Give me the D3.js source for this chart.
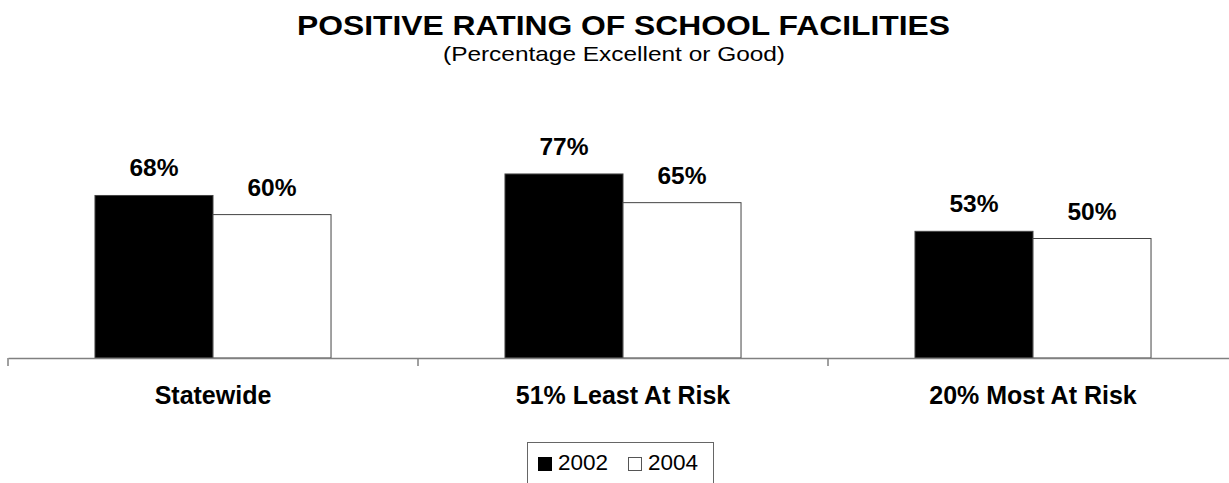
<!DOCTYPE html>
<html>
<head>
<meta charset="utf-8">
<script src="https://cdn.jsdelivr.net/npm/d3@7"></script>
<style>
  html, body { margin: 0; padding: 0; background: #fff; }
  svg { display: block; font-family: "Liberation Sans", Arial, sans-serif; }
</style>
</head>
<body>
<svg id="chart" width="1229" height="483"></svg>
<script>
const categories = ["Statewide", "51% Least At Risk", "20% Most At Risk"];
const seriesNames = ["2002", "2004"];
const values2002 = [68, 77, 53];
const values2004 = [60, 65, 50];
const title = "POSITIVE RATING OF SCHOOL FACILITIES";
const subtitle = "(Percentage Excellent or Good)";

const svg = d3.select("#chart");
const data = categories.map((c, i) => ({cat: c, vals: [
  {s: seriesNames[0], v: values2002[i]},
  {s: seriesNames[1], v: values2004[i]}
]}));
const fills = {"2002": "#000000", "2004": "#ffffff"};

const x0 = d3.scaleBand().domain(categories).range([8, 1238]).paddingInner(0).paddingOuter(0);
const x1 = d3.scaleBand().domain(seriesNames).range([0, x0.bandwidth()]).paddingInner(0).paddingOuter(0.737);
const y = d3.scaleLinear().domain([0, 100]).range([358, 119]);

// title
svg.append("text").attr("x", 297).attr("y", 35)
  .attr("textLength", 653).attr("lengthAdjust", "spacingAndGlyphs")
  .attr("font-size", 28).attr("font-weight", "bold").text(title);
svg.append("text").attr("x", 443).attr("y", 61)
  .attr("textLength", 342).attr("lengthAdjust", "spacingAndGlyphs")
  .attr("font-size", 21).text(subtitle);

// bars
const g = svg.selectAll("g.grp").data(data).enter().append("g")
  .attr("transform", d => `translate(${x0(d.cat)},0)`);
g.selectAll("rect").data(d => d.vals).enter().append("rect")
  .attr("x", d => x1(d.s)).attr("y", d => y(d.v))
  .attr("width", x1.bandwidth()).attr("height", d => y(0) - y(d.v))
  .attr("fill", d => fills[d.s]).attr("stroke", "#444").attr("stroke-width", 1);
g.selectAll("text.val").data(d => d.vals).enter().append("text")
  .attr("class", "val")
  .attr("x", d => x1(d.s) + x1.bandwidth() / 2).attr("y", d => y(d.v) - 19)
  .attr("text-anchor", "middle").attr("font-size", 24.5).attr("font-weight", "bold")
  .text(d => d.v + "%");

// axis
const axis = d3.axisBottom(x0).tickSize(0).tickFormat("");
const ax = svg.append("g").attr("transform", `translate(0,${y(0)})`).call(axis);
ax.select(".domain").attr("stroke", "#808080").attr("stroke-width", 1.5);
const edges = categories.map(c => x0(c)).concat([x0(categories[categories.length - 1]) + x0.bandwidth()]);
ax.selectAll("line.edge").data(edges).enter().append("line").attr("class", "edge")
  .attr("x1", d => d).attr("x2", d => d).attr("y1", 0).attr("y2", 8)
  .attr("stroke", "#808080").attr("stroke-width", 1.5);
svg.selectAll("text.cat").data(categories).enter().append("text").attr("class", "cat")
  .attr("x", d => x0(d) + x0.bandwidth() / 2).attr("y", 404)
  .attr("text-anchor", "middle").attr("font-size", 25).attr("font-weight", "bold")
  .text(d => d);

// legend
const lg = svg.append("g");
lg.append("rect").attr("x", 527.5).attr("y", 442.5).attr("width", 186).attr("height", 60)
  .attr("fill", "#fff").attr("stroke", "#666").attr("stroke-width", 1);
const legendX = [538, 628];
seriesNames.forEach((s, i) => {
  lg.append("rect").attr("x", legendX[i] + 0.5).attr("y", 457.5).attr("width", 13).attr("height", 13)
    .attr("fill", fills[s]).attr("stroke", s === "2002" ? "#000" : "#555").attr("stroke-width", 1);
  lg.append("text").attr("x", legendX[i] + 20).attr("y", 470).attr("font-size", 22.5).text(s);
});
</script>
</body>
</html>
